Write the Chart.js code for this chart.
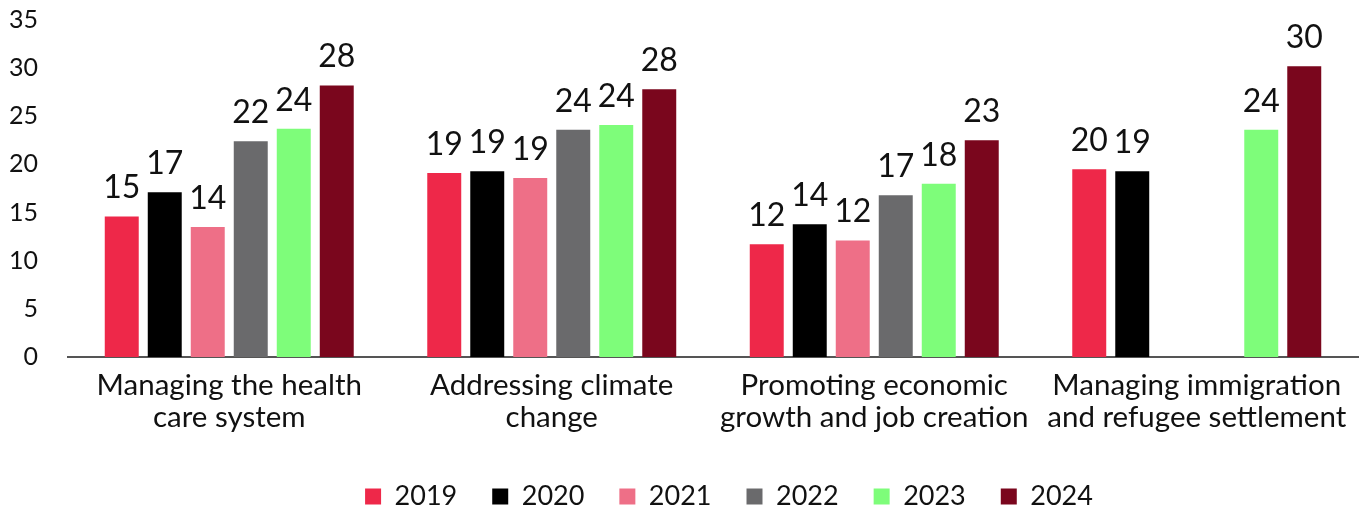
<!DOCTYPE html>
<html>
<head>
<meta charset="utf-8">
<script src="https://cdn.jsdelivr.net/npm/chart.js@4"></script>
<style>
  html, body { margin: 0; padding: 0; background: #fff; }
  #wrap { width: 1360px; height: 511px; }
</style>
</head>
<body>
<div id="wrap"><canvas id="myChart"></canvas></div>
<script>
const categories = [
  ['Managing the health', 'care system'],
  ['Addressing climate', 'change'],
  ['Promoting economic', 'growth and job creation'],
  ['Managing immigration', 'and refugee settlement']
];
const years = ['2019', '2020', '2021', '2022', '2023', '2024'];
const colors = ['#EE2849', '#000000', '#EE6F87', '#6A6A6C', '#7EFD7A', '#7A061D'];

const v2019 = [14.6, 19.1, 11.7, 19.5];
const v2020 = [17.1, 19.3, 13.8, 19.3];
const v2021 = [13.5, 18.6, 12.1, null];
const v2022 = [22.4, 23.6, 16.8, null];
const v2023 = [23.7, 24.1, 18.0, 23.6];
const v2024 = [28.2, 27.8, 22.5, 30.2];
const yTicks = [0, 5, 10, 15, 20, 25, 30, 35];

const series = [v2019, v2020, v2021, v2022, v2023, v2024];
const fontFamily = 'Lato, "Open Sans", sans-serif';

// draws the rounded value above each bar
const barLabels = {
  id: 'barLabels',
  afterDatasetsDraw(chart) {
    const c = chart.ctx;
    c.save();
    c.font = '32px ' + fontFamily;
    c.fillStyle = '#111';
    c.textAlign = 'center';
    c.textBaseline = 'alphabetic';
    chart.data.datasets.forEach((ds, i) => {
      chart.getDatasetMeta(i).data.forEach((bar, j) => {
        const v = ds.data[j];
        if (v == null) return;
        c.fillText(String(Math.round(v)), bar.x, bar.y - 18);
      });
    });
    c.restore();
  }
};

// the legend in the original sits a bit right of centre
const legendShift = {
  id: 'legendShift',
  afterLayout(chart) {
    chart.legend.left += 16;
    chart.legend.right += 16;
  }
};

const ctx = document.getElementById('myChart');
const grafico = new Chart(ctx, {
  type: 'bar',
  data: {
    labels: categories,
    datasets: years.map((y, i) => ({
      label: y,
      data: series[i],
      backgroundColor: colors[i],
      borderWidth: 0,
      categoryPercentage: 0.8,
      barPercentage: 0.79
    }))
  },
  options: {
    responsive: true,
    maintainAspectRatio: false,
    animation: false,
    layout: { autoPadding: false, padding: { top: 20, right: 2, left: 0, bottom: -9 } },
    plugins: {
      tooltip: { enabled: false },
      legend: {
        position: 'bottom',
        fullSize: false,
        labels: {
          boxWidth: 16,
          boxHeight: 16,
          padding: 35,
          color: '#111',
          font: { family: fontFamily, size: 27 }
        }
      }
    },
    scales: {
      x: {
        afterFit: s => { s.height = 91; },
        grid: { display: false, drawTicks: false },
        border: { display: true, color: '#555', width: 2 },
        ticks: {
          color: '#111',
          padding: 12,
          maxRotation: 0,
          autoSkip: false,
          font: { family: fontFamily, size: 29.5, lineHeight: 1.1 }
        }
      },
      y: {
        min: 0,
        max: 35,
        afterBuildTicks: s => { s.ticks = yTicks.map(v => ({ value: v })); },
        afterFit: s => { s.width = 68; s.paddingTop = 15; s.paddingBottom = 15; },
        grid: { display: false, drawTicks: false },
        border: { display: false },
        ticks: {
          color: '#111',
          padding: 30,
          font: { family: fontFamily, size: 25 }
        }
      }
    }
  },
  plugins: [barLabels, legendShift]
});
</script>
</body>
</html>
